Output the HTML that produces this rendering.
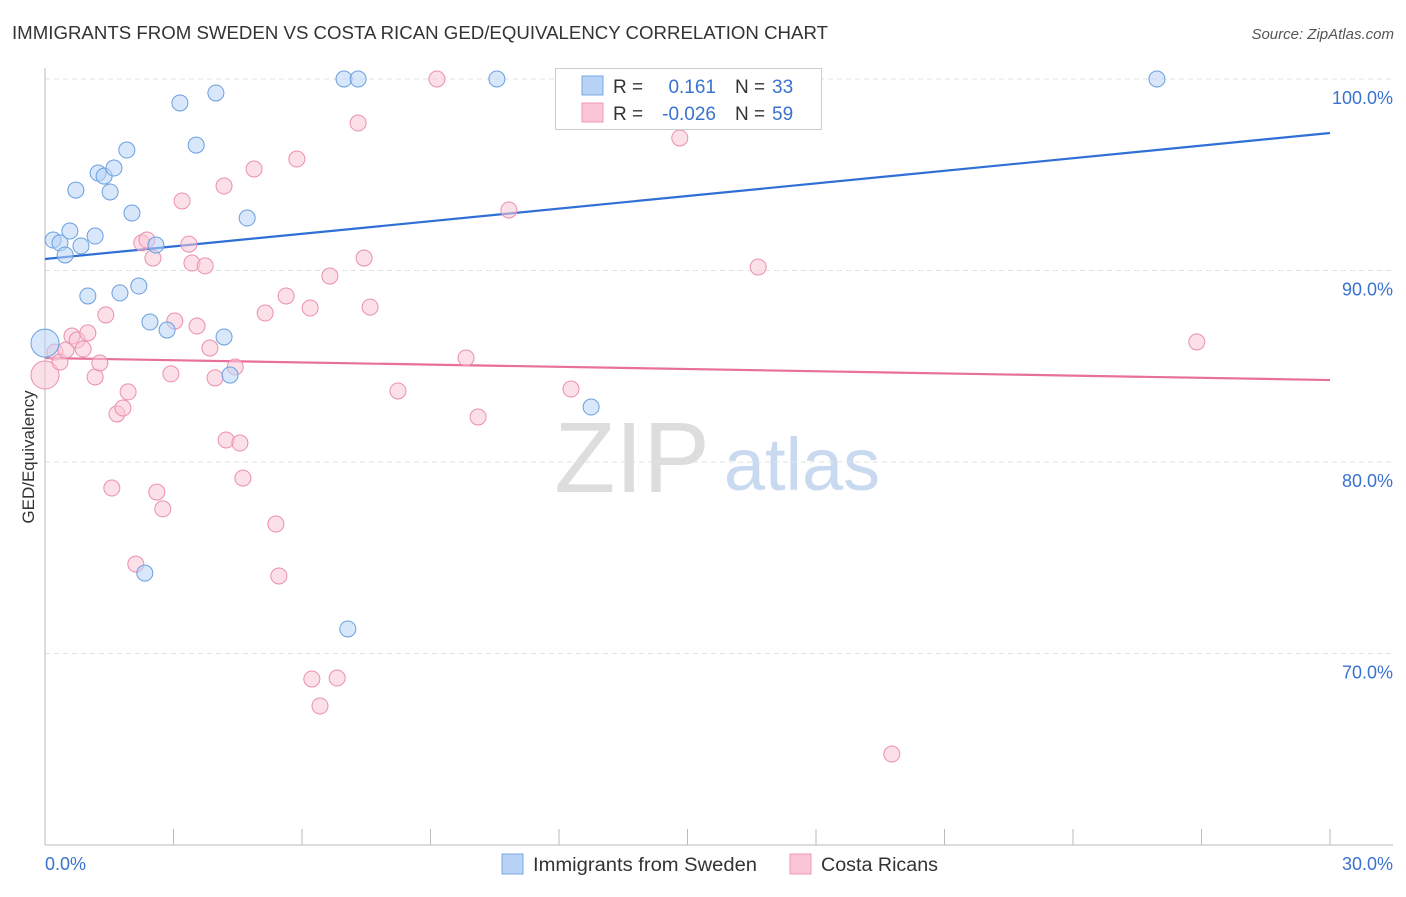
<!DOCTYPE html>
<html><head><meta charset="utf-8"><style>
body{margin:0;background:#fff;font-family:"Liberation Sans",sans-serif;}
svg text{font-family:"Liberation Sans",sans-serif;}
</style></head><body>
<svg id="chart" width="1406" height="892" xmlns="http://www.w3.org/2000/svg">
<text x="12" y="39" font-size="18" fill="#333" textLength="816" lengthAdjust="spacingAndGlyphs">IMMIGRANTS FROM SWEDEN VS COSTA RICAN GED/EQUIVALENCY CORRELATION CHART</text>
<text x="1394" y="39" font-size="15" fill="#555" text-anchor="end" font-style="italic">Source: ZipAtlas.com</text>
<text transform="translate(34,457) rotate(-90)" font-size="17" fill="#333" text-anchor="middle">GED/Equivalency</text>
<g>
<text x="632" y="492" font-size="100" fill="#ddd" text-anchor="middle" font-family="Liberation Serif">ZIP</text>
<text x="802" y="490" font-size="74" fill="#c9d9f0" text-anchor="middle">atlas</text>
</g>
<g id="grid"></g><g id="axes"></g><g id="trends"></g><g id="pts"></g>
<g>
<rect x="555.5" y="68.5" width="266" height="61" fill="#fff" stroke="#ccc"/>
<rect x="582" y="76" width="21" height="19" fill="#b8d3f5" stroke="#7aa8e8"/>
<rect x="582" y="103" width="21" height="19" fill="#f9c6d6" stroke="#ee9ab5"/>
<text x="613" y="93" font-size="19" fill="#333">R =</text>
<text x="716" y="93" font-size="19" fill="#3a72d0" text-anchor="end">0.161</text>
<text x="735" y="93" font-size="19" fill="#333">N =</text>
<text x="772" y="93" font-size="19" fill="#3a72d0">33</text>
<text x="613" y="120" font-size="19" fill="#333">R =</text>
<text x="716" y="120" font-size="19" fill="#3a72d0" text-anchor="end">-0.026</text>
<text x="735" y="120" font-size="19" fill="#333">N =</text>
<text x="772" y="120" font-size="19" fill="#3a72d0">59</text>
</g>
<g>
<rect x="502" y="854" width="21" height="20" fill="#b8d3f5" stroke="#7aa8e8"/>
<text x="533" y="871" font-size="19" fill="#333" textLength="224" lengthAdjust="spacingAndGlyphs">Immigrants from Sweden</text>
<rect x="790" y="854" width="21" height="20" fill="#f9c6d6" stroke="#ee9ab5"/>
<text x="821" y="871" font-size="19" fill="#333" textLength="117" lengthAdjust="spacingAndGlyphs">Costa Ricans</text>
</g>
</svg>
<script>
const xTicks=[0,3,6,9,12,15,18,21,24,27,30];
const yTicks=[70,80,90,100];
const yTickLabels=["70.0%","80.0%","90.0%","100.0%"];
const xLabels=["0.0%","30.0%"];
const swedenX=[0,0.19,0.35,0.47,0.58,0.72,0.84,1.00,1.17,1.24,1.38,1.52,1.61,1.75,1.91,2.03,2.19,2.33,2.45,2.59,2.85,3.15,3.53,3.99,4.18,4.32,4.72,6.98,7.31,7.07,10.55,12.75,25.96];
const swedenY=[86.21,91.59,91.44,90.81,92.06,94.20,91.28,88.67,91.80,95.09,94.93,94.10,95.35,88.83,96.29,93.00,89.19,74.20,87.31,91.33,86.89,98.75,96.55,99.27,86.53,84.54,92.74,100,100,71.28,100,82.87,100];
const costaX=[0,0.23,0.35,0.49,0.63,0.75,0.89,1.00,1.17,1.28,1.42,1.56,1.68,1.82,1.94,2.12,2.26,2.38,2.52,2.61,2.75,2.94,3.03,3.20,3.36,3.43,3.55,3.74,3.85,3.97,4.18,4.23,4.44,4.55,4.62,4.88,5.14,5.39,5.46,5.63,5.88,6.19,6.23,6.42,6.65,6.82,7.31,7.45,7.59,8.24,9.15,9.83,10.11,10.83,12.28,14.82,16.65,19.77,26.89];
const costaY=[84.54,85.74,85.22,85.85,86.58,86.37,85.90,86.74,84.44,85.17,87.68,78.64,82.51,82.82,83.66,74.67,91.44,91.59,90.65,78.43,77.55,84.60,87.36,93.63,91.38,90.39,87.10,90.24,85.95,84.39,94.41,81.15,84.96,80.99,79.16,95.30,87.78,76.76,74.05,88.67,95.82,88.04,68.67,67.26,89.71,68.72,97.70,90.65,88.09,83.71,100,85.43,82.35,93.16,83.81,96.92,90.18,64.75,86.27];
const swedenTrend=[90.60,97.18];
const costaTrend=[85.43,84.28];
const NS="http://www.w3.org/2000/svg";
const X=v=>45+v/30*1285;
const Y=v=>79+(100-v)*19.15;
function mk(tag,attrs,parent){const e=document.createElementNS(NS,tag);for(const k in attrs)e.setAttribute(k,attrs[k]);document.getElementById(parent).appendChild(e);return e;}
yTicks.forEach((t,i)=>{
 const g=mk('line',{x1:45,x2:1393,y1:Y(t),y2:Y(t),stroke:'#e2e2e2','stroke-dasharray':'5,4'},'grid');
 
 
 const l=mk('text',{x:1393,y:Y(t)+25,'font-size':18,fill:'#3a72d0','text-anchor':'end'},'grid');
 l.textContent=yTickLabels[i];
 
 
});
const ya=mk('line',{x1:45,x2:45,y1:68,y2:845,stroke:'#bbb'},'axes');


const xa=mk('line',{x1:45,x2:1393,y1:845,y2:845,stroke:'#bbb'},'axes');


xTicks.forEach(t=>{
 const k=mk('line',{x1:X(t),x2:X(t),y1:829,y2:845,stroke:'#bbb'},'axes');
 
 
});
[[0,'start'],[30,'end']].forEach((p,i)=>{
 const t=mk('text',{x:X(p[0])+(i?63:0),y:870,'font-size':18,fill:'#3a72d0','text-anchor':p[1]},'axes');
 t.textContent=xLabels[i];
 
 
});
function pts(xs,ys,fill,stroke,name){
 xs.forEach((x,i)=>{
  const big=(x===0);
  const c=mk('circle',{cx:X(x),cy:Y(ys[i]),r:big?14:8,fill:fill,'fill-opacity':0.55,stroke:stroke,'stroke-width':1},'pts');
  
  
 });
}
pts(costaX,costaY,'#f9c6d6','#ea8fae','point-costa-rican');
pts(swedenX,swedenY,'#b8d3f5','#6a9fe0','point-sweden');
const t1=mk('line',{x1:X(0),x2:X(30),y1:Y(swedenTrend[0]),y2:Y(swedenTrend[1]),stroke:'#2f6fd6','stroke-width':2.2},'trends');


const t2=mk('line',{x1:X(0),x2:X(30),y1:Y(costaTrend[0]),y2:Y(costaTrend[1]),stroke:'#e8709a','stroke-width':2.2},'trends');


</script>
</body></html>
